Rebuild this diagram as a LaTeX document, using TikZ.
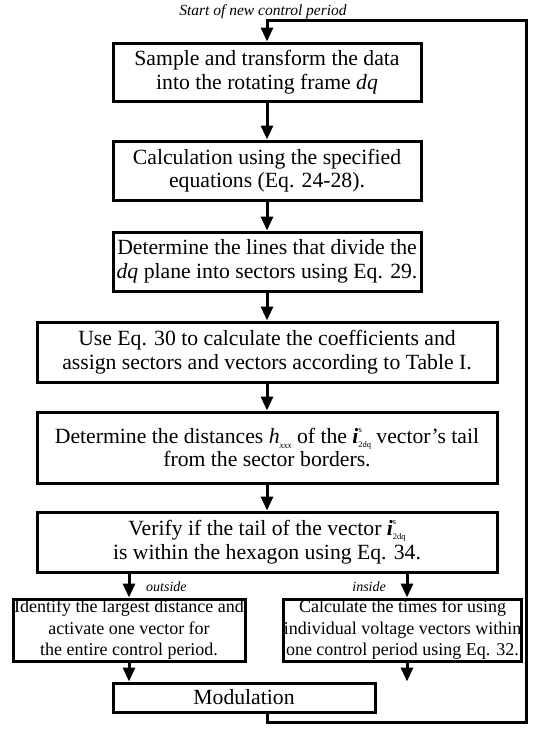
\documentclass[tikz,border=0pt]{standalone}
\usepackage{fontspec}
\setmainfont{Liberation Serif}
\usetikzlibrary{arrows.meta}
\newcommand{\vecis}{\textbf{\textit{i}}\raisebox{1.1ex}{\fontsize{8.5}{8.5}\selectfont s}\kern-3.5pt\raisebox{-0.4ex}{\fontsize{8.5}{8.5}\selectfont 2dq}}
\newcommand{\hxxx}{\textit{h}\raisebox{-0.5ex}{\fontsize{9}{9}\selectfont\textit{xxx}}}
\begin{document}
\begin{tikzpicture}[x=1pt,y=-1pt,
  box/.style={draw, line width=3pt, align=center, inner sep=0pt, font=\fontsize{21.7}{23.5}\selectfont},
  sbox/.style={box, font=\fontsize{18}{21.5}\selectfont},
  arr/.style={line width=3pt, -{Triangle[length=14pt,width=12pt]}},
  lbl/.style={font=\fontsize{14}{16}\selectfont\itshape, inner sep=0pt}]
\useasboundingbox (0,0) rectangle (535,739);
\node[box, minimum width=308pt, minimum height=58pt] (b1) at (267,72) {Sample and transform the data\\into the rotating frame \textit{dq}};
\node[box, minimum width=308pt, minimum height=59pt] (b2) at (267,170.5) {Calculation using the specified\\equations (Eq. 24-28).};
\node[box, minimum width=308pt, minimum height=59pt] (b3) at (267,261.5) {Determine the lines that divide the\\\textit{dq} plane into sectors using Eq. 29.};
\node[box, minimum width=460pt, minimum height=60pt] (b4) at (267,352) {Use Eq. 30 to calculate the coefficients and\\assign sectors and vectors according to Table I.};
\node[box, minimum width=460pt, minimum height=71pt] (b5) at (267,447.5) {Determine the distances \hxxx{} of the \vecis{} vector's tail\\from the sector borders.};
\node[box, minimum width=460pt, minimum height=60pt] (b6) at (267,542) {Verify if the tail of the vector \vecis\\is within the hexagon using Eq. 34.};
\node[sbox, minimum width=232pt, minimum height=62pt] (L) at (129,630) {Identify the largest distance and\\activate one vector for\\the entire control period.};
\node[sbox, minimum width=237pt, minimum height=62pt] (R) at (402.5,630) {Calculate the times for using\\individual voltage vectors within\\one control period using Eq. 32.};
\node[box, minimum width=262pt, minimum height=29pt] (M) at (244,697.5) {Modulation};
\node[lbl, font=\fontsize{15.5}{17}\selectfont\itshape] (t) at (263,12) {Start of new control period};
\node[lbl, anchor=west] (lo) at (146,587) {outside};
\node[lbl, anchor=east] (li) at (386,587) {inside};
\coordinate (rx) at (407,0);
\coordinate (c1) at (526,722);
\coordinate (c2) at (526,20);
\draw[arr] (b1.south) -- (b2.north);
\draw[arr] (b2.south) -- (b3.north);
\draw[arr] (b3.south) -- (b4.north);
\draw[arr] (b4.south) -- (b5.north);
\draw[arr] (b5.south) -- (b6.north);
\draw[arr] (b6.south -| L.north) -- (L.north);
\draw[arr] (b6.south -| rx) -- (R.north -| rx);
\draw[arr] (L.south) -- (M.north -| L.south);
\draw[arr] (R.south -| rx) -- (M.north -| rx);
\draw[arr] (M.south -| b1.north) |- (c1) -- (c2) -| (b1.north);
\end{tikzpicture}
\end{document}
